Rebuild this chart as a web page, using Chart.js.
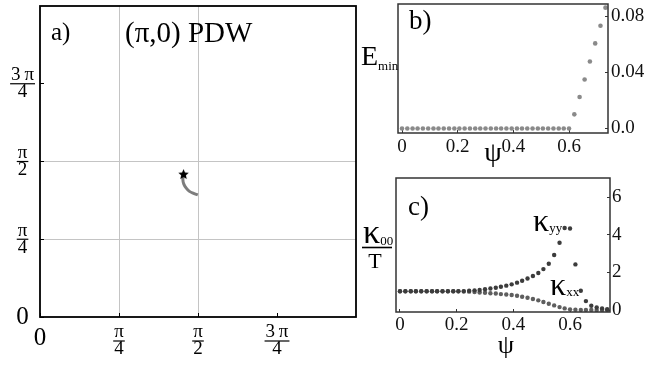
<!DOCTYPE html>
<html>
<head>
<meta charset="utf-8">
<script src="https://cdn.jsdelivr.net/npm/chart.js@4.4.0/dist/chart.umd.min.js"></script>
<style>
  html, body { margin: 0; padding: 0; background: #fff; }
  #wrap { position: relative; width: 646px; height: 366px; }
  #wrap canvas { position: absolute; left: 0; top: 0; }
</style>
</head>
<body>
<div id="wrap">
  <canvas id="chartA" width="646" height="366"></canvas>
  <canvas id="chartB" width="646" height="366"></canvas>
  <canvas id="chartC" width="646" height="366"></canvas>
</div>
<script>
// ---- dados ----
const PI = Math.PI;

// a) trajetória do mínimo no plano (kx, ky)
const trajX = [1.427, 1.420, 1.430, 1.454, 1.486, 1.527, 1.569];
const trajY = [1.439, 1.392, 1.342, 1.302, 1.269, 1.249, 1.233];
const startX = [1.427];
const startY = [1.439];
const aTicks = [0, PI / 4, PI / 2, 3 * PI / 4];
const aTickNum = ['0', 'π', 'π', '3\u2009π'];
const aTickDen = ['', '4', '2', '4'];
const aGridAt = [PI / 4, PI / 2];

// b) e c) em função de psi
const psi = [0, 0.019, 0.038, 0.056, 0.075, 0.094, 0.113, 0.131, 0.15, 0.169,
             0.188, 0.206, 0.225, 0.244, 0.263, 0.281, 0.3, 0.319, 0.338, 0.356,
             0.375, 0.394, 0.413, 0.431, 0.45, 0.469, 0.488, 0.506, 0.525, 0.544,
             0.563, 0.581, 0.6, 0.619, 0.638, 0.656, 0.675, 0.694, 0.713, 0.731];
const eMin = [0, 0, 0, 0, 0, 0, 0, 0, 0, 0,
              0, 0, 0, 0, 0, 0, 0, 0, 0, 0,
              0, 0, 0, 0, 0, 0, 0, 0, 0, 0,
              0, 0, 0, 0.0101, 0.0225, 0.035, 0.0478, 0.0607, 0.0733, 0.0862];
const kappaYY = [1.0, 1.0, 1.0, 1.0, 1.0, 1.0, 1.0, 1.0, 1.0, 1.0,
                 1.0, 1.0, 1.01, 1.03, 1.05, 1.07, 1.11, 1.15, 1.19, 1.24,
                 1.30, 1.37, 1.46, 1.56, 1.68, 1.81, 1.97, 2.18, 2.46, 2.93,
                 3.58, 4.36, 4.34, 2.43, 1.03, 0.48, 0.23, 0.14, 0.09, 0.05];
const kappaXX = [1.0, 1.0, 1.0, 1.0, 1.0, 1.0, 1.0, 1.0, 1.0, 1.0,
                 1.0, 1.0, 0.99, 0.98, 0.96, 0.94, 0.92, 0.90, 0.88, 0.85,
                 0.83, 0.80, 0.76, 0.71, 0.66, 0.59, 0.52, 0.43, 0.34, 0.25,
                 0.16, 0.09, 0.04, 0.02, 0.01, 0.01, 0.01, 0.0, 0.0, 0.0];

const bXTicks = [0, 0.2, 0.4, 0.6];
const bXLabels = ['0', '0.2', '0.4', '0.6'];
const bYTicks = [0, 0.04, 0.08];
const bYLabels = ['0.0', '0.04', '0.08'];
const cXTicks = [0, 0.2, 0.4, 0.6];
const cXLabels = ['0', '0.2', '0.4', '0.6'];
const cYTicks = [0, 2, 4, 6];
const cYLabels = ['0', '2', '4', '6'];

// ---- estilo comum ----
const SERIF = '"Liberation Serif", "Times New Roman", serif';
Chart.defaults.font.family = SERIF;
Chart.defaults.color = '#111';

const zip = (xs, ys) => xs.map((x, i) => ({ x: x, y: ys[i] }));
const setTicks = (vals) => (scale) => { scale.ticks = vals.map(v => ({ value: v })); };
// tamanho fixo do eixo, sem folga extra para os rótulos
const fixSize = (prop, size) => (s) => {
    s[prop] = size;
    s.paddingTop = 0; s.paddingBottom = 0; s.paddingLeft = 0; s.paddingRight = 0;
};

// moldura em volta da área do gráfico
const framePlugin = {
    id: 'frame',
    afterDraw(chart, args, opts) {
        const { left, top, right, bottom } = chart.chartArea;
        const ctx = chart.ctx;
        ctx.save();
        ctx.strokeStyle = opts.color || '#000';
        ctx.lineWidth = opts.width || 1.5;
        ctx.strokeRect(left, top, right - left, bottom - top);
        ctx.restore();
    }
};

// traço da fração nos rótulos de duas linhas
const fracBarPlugin = {
    id: 'fracBars',
    afterDraw(chart) {
        const ctx = chart.ctx;
        ['x', 'y'].forEach(id => {
            const scale = chart.scales[id];
            scale.getLabelItems().forEach(item => {
                if (!Array.isArray(item.label) || item.label.length < 2) return;
                const o = item.options;
                const [tx, ty] = o.translation;
                const lh = item.font.lineHeight;
                ctx.save();
                ctx.font = item.font.string;
                const w = Math.max(...item.label.map(s => ctx.measureText(s).width)) + 2;
                let cx = tx;
                if (o.textAlign === 'right') cx = tx - w / 2;
                if (o.textAlign === 'left') cx = tx + w / 2;
                const by = ty + item.textOffset + lh / 2;
                ctx.strokeStyle = '#000';
                ctx.lineWidth = 1.2;
                ctx.beginPath();
                ctx.moveTo(cx - w / 2, by);
                ctx.lineTo(cx + w / 2, by);
                ctx.stroke();
                ctx.restore();
            });
        });
    }
};

function txt(ctx, s, x, y, size, align) {
    ctx.font = size + 'px ' + SERIF;
    ctx.textAlign = align || 'left';
    ctx.textBaseline = 'alphabetic';
    ctx.fillStyle = '#000';
    ctx.fillText(s, x, y);
    return ctx.measureText(s).width;
}

// estrela preenchida para o ponto inicial
function makeStar(r) {
    const c = document.createElement('canvas');
    const s = Math.ceil(r * 2 + 2);
    c.width = s; c.height = s;
    const g = c.getContext('2d');
    g.fillStyle = '#000';
    g.beginPath();
    for (let k = 0; k < 10; k++) {
        const rad = k % 2 ? r * 0.45 : r;
        const ang = -Math.PI / 2 + k * Math.PI / 5;
        const px = s / 2 + rad * Math.cos(ang), py = s / 2 + rad * Math.sin(ang);
        if (k) g.lineTo(px, py); else g.moveTo(px, py);
    }
    g.closePath();
    g.fill();
    return c;
}

const baseOptions = {
    responsive: false,
    animation: false,
    devicePixelRatio: 1,
    events: [],
    plugins: { legend: { display: false }, tooltip: { enabled: false } }
};

// ---- a) ----
const gridColorA = (ctx) => (ctx.tick && aGridAt.some(v => Math.abs(v - ctx.tick.value) < 1e-6)) ? '#c4c4c4' : 'rgba(0,0,0,0)';
const fontA = (ctx) => (ctx.tick && ctx.tick.value === 0)
    ? { size: 25, lineHeight: '28px' }
    : { size: 19, lineHeight: '17px' };
const labelA = (value, index) => aTickDen[index] ? [aTickNum[index], aTickDen[index]] : aTickNum[index];

new Chart(document.getElementById('chartA'), {
    type: 'scatter',
    data: {
        datasets: [
            {
                data: zip(startX, startY),
                pointStyle: makeStar(5.5),
                pointRadius: 5,
                order: 0
            },
            {
                data: zip(trajX, trajY),
                showLine: true,
                borderColor: '#7d7d7d',
                borderWidth: 3,
                pointRadius: 0,
                tension: 0.4,
                order: 1
            }
        ]
    },
    options: {
        ...baseOptions,
        layout: { padding: { left: 0, top: 2, right: 290, bottom: 0 } },
        plugins: { ...baseOptions.plugins, frame: { color: '#000', width: 1.8 } },
        scales: {
            x: {
                type: 'linear', min: 0, max: PI, position: 'bottom',
                afterBuildTicks: setTicks(aTicks),
                afterFit: fixSize('height', 49),
                border: { display: false },
                grid: { color: gridColorA, tickColor: '#000', tickLength: -4, lineWidth: 1 },
                ticks: { callback: labelA, font: fontA, padding: 11, maxRotation: 0, color: '#000' }
            },
            y: {
                type: 'linear', min: 0, max: PI, position: 'left',
                afterBuildTicks: setTicks(aTicks),
                afterFit: fixSize('width', 40),
                border: { display: false },
                grid: { color: gridColorA, tickColor: '#000', tickLength: -4, lineWidth: 1 },
                ticks: { callback: labelA, font: fontA, padding: 10, crossAlign: 'center', color: '#000' }
            }
        }
    },
    plugins: [framePlugin, fracBarPlugin, {
        id: 'annotA',
        afterDraw(chart) {
            const ctx = chart.ctx;
            ctx.save();
            txt(ctx, 'a)', 51, 40, 25);
            txt(ctx, '(π,0) PDW', 125, 42, 29);
            ctx.restore();
        }
    }]
});

// ---- b) ----
new Chart(document.getElementById('chartB'), {
    type: 'scatter',
    data: {
        datasets: [{
            data: zip(psi, eMin),
            pointRadius: 2.3,
            borderWidth: 0,
            backgroundColor: '#8a8a8a'
        }]
    },
    options: {
        ...baseOptions,
        layout: { padding: { left: 398, top: 3, right: 0, bottom: 203 } },
        plugins: { ...baseOptions.plugins, frame: { color: '#333', width: 1.5 } },
        scales: {
            x: {
                type: 'linear', min: -0.0144, max: 0.740, position: 'bottom',
                afterBuildTicks: setTicks(bXTicks),
                afterFit: fixSize('height', 30),
                border: { display: false },
                grid: { drawOnChartArea: false, tickColor: '#333', tickLength: -3 },
                ticks: { callback: (v, i) => bXLabels[i], font: { size: 19 }, padding: 6, maxRotation: 0 }
            },
            y: {
                type: 'linear', min: -0.0032, max: 0.0888, position: 'right',
                afterBuildTicks: setTicks(bYTicks),
                afterFit: fixSize('width', 38),
                border: { display: false },
                grid: { drawOnChartArea: false, tickColor: '#333', tickLength: -3 },
                ticks: { callback: (v, i) => bYLabels[i], font: { size: 19 }, padding: 6 }
            }
        }
    },
    plugins: [framePlugin, {
        id: 'annotB',
        afterDraw(chart) {
            const ctx = chart.ctx;
            ctx.save();
            txt(ctx, 'b)', 409, 29, 27);
            const w = txt(ctx, 'E', 361, 65, 28);
            txt(ctx, 'min', 361 + w, 70, 13);
            txt(ctx, 'ψ', 493, 161, 28, 'center');
            ctx.restore();
        }
    }]
});

// ---- c) ----
new Chart(document.getElementById('chartC'), {
    type: 'scatter',
    data: {
        datasets: [
            {
                label: 'κyy',
                data: zip(psi, kappaYY),
                pointRadius: 2.2,
                borderWidth: 0,
                backgroundColor: '#3c3c3c'
            },
            {
                label: 'κxx',
                data: zip(psi, kappaXX),
                pointRadius: 2.2,
                borderWidth: 0,
                backgroundColor: '#5e5e5e'
            }
        ]
    },
    options: {
        ...baseOptions,
        layout: { padding: { left: 396, top: 178, right: 0, bottom: 24 } },
        plugins: { ...baseOptions.plugins, frame: { color: '#333', width: 1.5 } },
        scales: {
            x: {
                type: 'linear', min: -0.0141, max: 0.741, position: 'bottom',
                afterBuildTicks: setTicks(cXTicks),
                afterFit: fixSize('height', 30),
                border: { display: false },
                grid: { drawOnChartArea: false, tickColor: '#333', tickLength: -3 },
                ticks: { callback: (v, i) => cXLabels[i], font: { size: 19 }, padding: 5, maxRotation: 0 }
            },
            y: {
                type: 'linear', min: -0.1, max: 7.02, position: 'right',
                afterBuildTicks: setTicks(cYTicks),
                afterFit: fixSize('width', 36),
                border: { display: false },
                grid: { drawOnChartArea: false, tickColor: '#333', tickLength: -3 },
                ticks: { callback: (v, i) => cYLabels[i], font: { size: 19 }, padding: 5 }
            }
        }
    },
    plugins: [framePlugin, {
        id: 'annotC',
        afterDraw(chart) {
            const ctx = chart.ctx;
            ctx.save();
            txt(ctx, 'c)', 408, 215, 27);
            // kappa_00 / T
            let w = txt(ctx, 'κ', 363, 243, 34);
            txt(ctx, '00', 363 + w, 245, 13);
            ctx.strokeStyle = '#000';
            ctx.lineWidth = 1.6;
            ctx.beginPath();
            ctx.moveTo(362, 247.5);
            ctx.lineTo(392, 247.5);
            ctx.stroke();
            txt(ctx, 'T', 375, 268, 22, 'center');
            // rótulos das curvas
            w = txt(ctx, 'κ', 533, 231, 32);
            txt(ctx, 'yy', 533 + w, 232, 13);
            w = txt(ctx, 'κ', 550, 295, 32);
            txt(ctx, 'xx', 550 + w, 296, 13);
            txt(ctx, 'ψ', 506, 353, 26, 'center');
            ctx.restore();
        }
    }]
});
</script>
</body>
</html>
